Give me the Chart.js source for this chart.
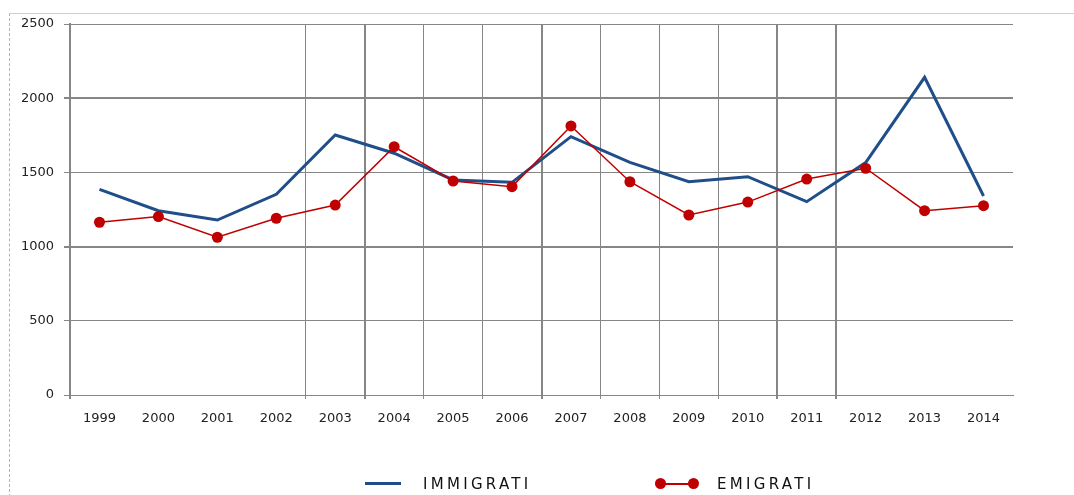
<!DOCTYPE html>
<html>
<head>
<meta charset="utf-8">
<script src="https://cdn.jsdelivr.net/npm/chart.js@4.4.1/dist/chart.umd.min.js"></script>
<style>
    html, body { margin: 0; padding: 0; background: #fff; }
    #wrap { position: relative; width: 1074px; height: 495px; overflow: hidden; }
    #frame { position: absolute; left: 9px; top: 13px; right: 0; bottom: -2px; border-top: 1px solid #cfcfcf; border-left: 1px dashed #b3b3b3; }
    #grafico { position: absolute; left: 0; top: 0; }
    .leg { position: absolute; font: 15px "DejaVu Sans", sans-serif; letter-spacing: 3.3px; color: #111; line-height: 16px; }
    .linha { position: absolute; height: 3px; }
    .ponto { position: absolute; width: 11px; height: 11px; border-radius: 50%; background: #c00000; }
</style>
</head>
<body>
<div id="wrap">
    <div id="frame"></div>
    <canvas id="grafico" width="1074" height="495"></canvas>
    <div class="linha" style="left:365px; top:482px; width:36px; background:#1f4e89;"></div>
    <div class="leg" style="left:423px; top:476px;">IMMIGRATI</div>
    <div class="linha" style="left:662px; top:483px; width:30px; height:2px; background:#c00000;"></div>
    <div class="ponto" style="left:655px; top:478px;"></div>
    <div class="ponto" style="left:688px; top:478px;"></div>
    <div class="leg" style="left:717px; top:476px;">EMIGRATI</div>
</div>
<script>
const anni = ['1999', '2000', '2001', '2002', '2003', '2004', '2005', '2006', '2007', '2008', '2009', '2010', '2011', '2012', '2013', '2014'];
const immigrati = [1386, 1242, 1179, 1352, 1752, 1629, 1449, 1433, 1741, 1568, 1437, 1471, 1303, 1566, 2141, 1341];
const emigrati = [1164, 1202, 1063, 1191, 1280, 1673, 1442, 1404, 1813, 1437, 1213, 1300, 1455, 1528, 1242, 1276];
const yTicks = [0, 500, 1000, 1500, 2000, 2500];

// linee verticali solo in alcuni punti (indice = bordo sinistro della categoria)
const lineeVerticali = [0, 4, 5, 6, 7, 8, 9, 10, 11, 12, 13];
const lineeSpesse = [0, 5, 8, 12, 13];

const grigio = '#868686';
const fontTick = { family: 'DejaVu Sans', size: 13 };

new Chart(document.getElementById('grafico'), {
    type: 'line',
    data: {
        labels: anni,
        datasets: [
            {
                label: 'IMMIGRATI',
                data: immigrati,
                borderColor: '#1f4e89',
                borderWidth: 3,
                pointRadius: 0,
                tension: 0,
                order: 1
            },
            {
                label: 'EMIGRATI',
                data: emigrati,
                borderColor: '#c00000',
                backgroundColor: '#c00000',
                borderWidth: 1.5,
                pointRadius: 5.5,
                pointBorderWidth: 0,
                pointBackgroundColor: '#c00000',
                tension: 0,
                order: 0
            }
        ]
    },
    options: {
        responsive: false,
        animation: false,
        devicePixelRatio: 1,
        layout: { padding: { top: 24, right: 61, left: 0, bottom: 0 } },
        scales: {
            x: {
                offset: true,
                grid: {
                    offset: true,
                    tickLength: 4,
                    color: (ctx) => lineeVerticali.includes(ctx.index) ? grigio : 'rgba(0,0,0,0)',
                    lineWidth: (ctx) => lineeSpesse.includes(ctx.index) ? 2 : 1
                },
                border: { display: true, color: grigio, width: 1 },
                ticks: { font: fontTick, color: '#222', padding: 12, maxRotation: 0, autoSkip: false },
                afterFit: (s) => { s.height = 100; }
            },
            y: {
                min: 0,
                max: 2500,
                afterBuildTicks: (s) => { s.ticks = yTicks.map(v => ({ value: v })); },
                grid: {
                    color: grigio,
                    tickLength: 6,
                    lineWidth: (ctx) => (ctx.tick && (ctx.tick.value === 1000 || ctx.tick.value === 2000)) ? 2 : 1
                },
                border: { display: true, color: grigio, width: 2 },
                ticks: {
                    font: fontTick,
                    color: '#222',
                    padding: 10,
                    callback: (value) => String(value)
                },
                afterFit: (s) => { s.width = 70; }
            }
        },
        plugins: {
            legend: { display: false },
            tooltip: { enabled: false }
        }
    }
});
</script>
</body>
</html>
